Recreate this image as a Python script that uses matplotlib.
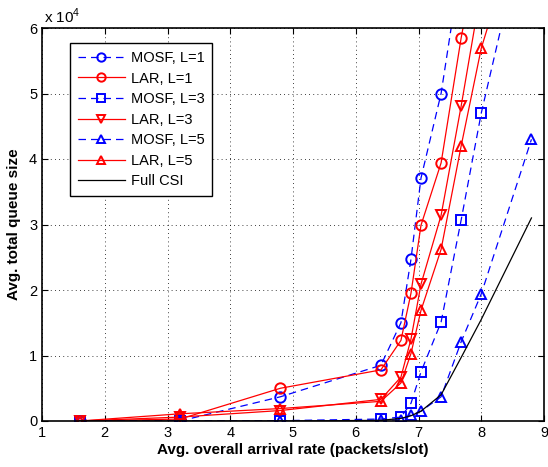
import matplotlib
matplotlib.use('Agg')
import matplotlib.pyplot as plt

plt.rcParams['font.family'] = ['Liberation Sans', 'DejaVu Sans']
plt.rcParams['mathtext.fontset'] = 'custom'
plt.rcParams['mathtext.rm'] = 'Liberation Sans'

# --- Data ---
x_all = [1.6, 3.2, 4.8, 6.4, 6.72, 6.88, 7.04, 7.36, 7.68, 8.0, 8.8]

mosf1 = [0, 0, 3700, 8500, 15000, 24700, 37100, 50000, 70000]
lar1 = [0, 300, 5000, 7800, 12300, 19500, 29900, 39400, 58500, 75000]
mosf3 = [0, 0, 50, 300, 600, 2700, 7500, 15100, 30700, 47000, 80000]
lar3 = [0, 600, 1600, 3300, 6700, 12500, 20900, 31400, 48100, 66000]
mosf5 = [0, 0, 0, 100, 200, 900, 1500, 3700, 12100, 19400, 43000]
lar5 = [0, 1100, 1900, 3000, 5800, 10300, 16900, 26200, 42000, 56900, 82000]
full_csi = [0, 0, 0, 100, 400, 800, 1500, 4000, 9700, 15500, 31000]

labels = ['MOSF, L=1', 'LAR, L=1', 'MOSF, L=3', 'LAR, L=3',
          'MOSF, L=5', 'LAR, L=5', 'Full CSI']

fig = plt.figure(figsize=(5.48, 4.67), dpi=100)
ax = fig.add_axes([42/548, 46/467, 502/548, 393/467])

ms = 7.5
mew = 1.4
dash = (0, (6, 4))

series = [
    (mosf1, 'b', 'o', dash),
    (lar1, 'r', 'o', '-'),
    (mosf3, 'b', 's', dash),
    (lar3, 'r', 'v', '-'),
    (mosf5, 'b', '^', dash),
    (lar5, 'r', '^', '-'),
]
for (ys, c, m, ls), lab in zip(series, labels):
    ax.plot(x_all[:len(ys)], ys, color=c, linestyle=ls, marker=m, markersize=ms,
            markerfacecolor='none', markeredgecolor=c, markeredgewidth=mew,
            linewidth=0.9, label=lab)

ax.plot(x_all, full_csi, color='k', linewidth=0.9, label=labels[-1])

ax.set_xlim(1, 9)
ax.set_ylim(0, 60000)
ax.set_xticks(range(1, 10))
ax.set_yticks([0, 10000, 20000, 30000, 40000, 50000, 60000])
ax.set_yticklabels(['0', '1', '2', '3', '4', '5', '6'])
ax.tick_params(direction='in', top=True, right=True, labelsize=10.5, length=4)
ax.grid(True, linestyle=(0, (1, 4)), color='k', linewidth=0.6)
for sp in ax.spines.values():
    sp.set_linewidth(1.2)

ax.set_xlabel('Avg. overall arrival rate (packets/slot)', fontsize=11, fontweight='bold', labelpad=2)
ax.set_ylabel('Avg. total queue size', fontsize=11, fontweight='bold', labelpad=6)
ax.text(0.004, 1.005, r'x 10$^{4}$', transform=ax.transAxes, fontsize=11, ha='left', va='bottom')

leg = ax.legend(loc='upper left', bbox_to_anchor=(0.056, 0.962), borderaxespad=0,
                fancybox=False, framealpha=1, edgecolor='k', fontsize=10.5,
                handlelength=3.2, labelspacing=0.45, handletextpad=0.4, borderpad=0.55,
                markerscale=0.8)
leg.get_frame().set_linewidth(1.0)

fig.savefig('out.png', dpi=100)
